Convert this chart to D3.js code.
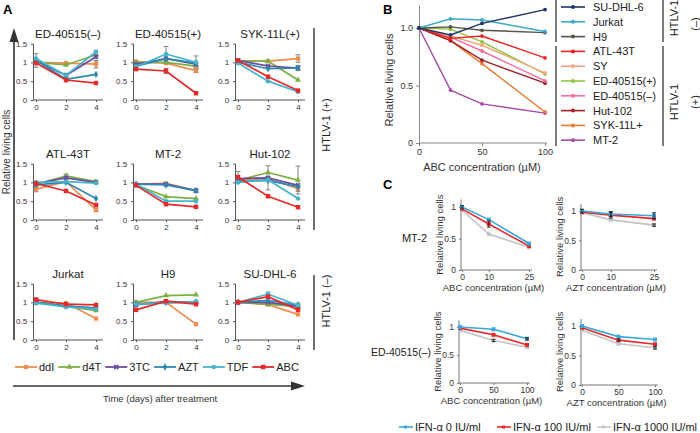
<!DOCTYPE html>
<html><head><meta charset="utf-8">
<script src="https://cdn.jsdelivr.net/npm/d3@7"></script>
<style>
body{margin:0;background:#fff;}
svg{display:block;font-family:"Liberation Sans",Arial,sans-serif;}
</style></head><body>
<svg id="c" width="700" height="433"></svg>
<script>
// ---------- DATA ----------
const days = [0, 2, 4];
const drugs = ["ddI", "d4T", "3TC", "AZT", "TDF", "ABC"];
const cellLinesA = ["ED-40515(–)", "ED-40515(+)", "SYK-11L(+)", "ATL-43T", "MT-2", "Hut-102", "Jurkat", "H9", "SU-DHL-6"];
const yTicksA = [0, 0.5, 1, 1.5];
// each: rows ddI, d4T, 3TC, AZT, TDF, ABC ; columns day 0, 2, 4
const vED40515neg = [[1.0,0.98,0.95],[1.0,0.93,1.2],[1.05,0.65,1.15],[1.05,0.55,0.68],[1.1,0.65,1.28],[0.98,0.53,0.45]];
const vED40515pos = [[1.02,0.98,0.78],[1.0,1.0,0.9],[0.95,1.1,0.95],[0.9,1.1,0.98],[0.88,1.22,1.0],[0.82,0.77,0.18]];
const vSYK11L     = [[1.03,1.03,1.1],[1.03,1.03,0.53],[1.05,0.9,0.85],[1.0,0.83,0.85],[0.98,0.5,0.22],[1.05,0.62,0.25]];
const vATL43T     = [[0.82,1.02,0.27],[0.95,1.17,1.02],[0.97,1.12,1.0],[0.93,1.0,0.57],[1.0,1.02,0.98],[0.97,0.77,0.4]];
const vMT2        = [[0.95,0.97,0.78],[0.93,0.62,0.57],[0.95,0.95,0.78],[0.95,0.93,0.78],[0.95,0.5,0.5],[0.92,0.42,0.35]];
const vHut102     = [[1.05,1.1,0.83],[1.05,1.26,1.06],[1.1,1.12,0.92],[1.02,1.05,0.88],[1.0,1.07,0.57],[1.14,0.63,0.34]];
const vJurkat     = [[1.0,0.98,0.57],[1.0,0.9,0.78],[1.0,0.9,0.85],[1.0,0.9,0.85],[0.98,0.88,0.82],[1.07,0.95,0.93]];
const vH9         = [[1.0,1.0,0.42],[1.0,1.18,1.2],[0.93,1.02,1.0],[0.95,1.0,1.0],[0.95,0.98,1.02],[0.8,1.03,0.95]];
const vSUDHL6     = [[1.0,0.94,0.68],[1.0,0.95,0.88],[1.0,1.0,0.9],[1.0,1.05,0.93],[1.0,1.22,0.92],[1.0,1.15,0.8]];
// error bars: [drug index, day index, sd]
const eED40515neg = [[2,0,0.18],[2,2,0.15],[0,2,0.1],[2,1,0.06]];
const eED40515pos = [[4,1,0.2],[5,1,0.07],[4,2,0.17],[0,2,0.05]];
const eSYK11L     = [[0,2,0.1],[3,2,0.06]];
const eATL43T     = [[0,0,0.07],[1,1,0.05],[0,2,0.05]];
const eMT2        = [[3,2,0.04]];
const eHut102     = [[5,0,0.15],[2,1,0.32],[1,2,0.37],[0,2,0.07]];
const eJurkat     = [[5,0,0.05]];
const eH9         = [];
const eSUDHL6     = [[4,1,0.05],[3,2,0.05]];

const concB = [0, 25, 50, 100];
const cellLinesB = ["SU-DHL-6","Jurkat","H9","ATL-43T","SY","ED-40515(+)","ED-40515(–)","Hut-102","SYK-11L+","MT-2"];
const bSUDHL6  = [1.0,0.94,1.04,1.16];
const bJurkat  = [1.0,1.08,1.07,0.97];
const bH9      = [1.0,1.01,0.98,0.96];
const bATL43T  = [1.0,0.91,0.93,0.74];
const bSY      = [1.0,0.93,0.85,0.61];
const bED40515pos = [1.0,0.99,0.88,0.60];
const bED40515neg = [1.0,0.92,0.80,0.54];
const bHut102  = [1.0,0.89,0.72,0.52];
const bSYK11L  = [1.0,0.89,0.69,0.27];
const bMT2     = [1.0,0.46,0.34,0.26];
const yTicksB = [0, 0.5, 1.0];
const xTicksB = [0, 50, 100];

const ifnLabels = ["IFN-α 0 IU/ml","IFN-α 100 IU/ml","IFN-α 1000 IU/ml"];
const concMT2 = [0, 10, 25];
const concED = [0, 50, 100];
const cMT2_ABC = [[1.0,0.80,0.42],[0.97,0.73,0.38],[0.95,0.57,0.36]];
const cMT2_AZT = [[1.0,0.95,0.92],[0.98,0.93,0.87],[0.97,0.85,0.76]];
const cED_ABC  = [[1.0,0.96,0.79],[0.98,0.86,0.68],[0.94,0.76,0.64]];
const cED_AZT  = [[1.0,0.82,0.77],[0.97,0.76,0.69],[0.93,0.70,0.63]];
const yTicksC = [0, 0.5, 1];

// ---------- STYLE ----------
const drugColors = ["#F08C4E","#7DAF45","#6A4C9C","#2C88B0","#45B3CC","#E52A2A"];
const bColors = ["#1F3566","#3DA7C9","#55554A","#ED2224","#F7A57E","#8CC63E","#F26D9F","#9E1F25","#EB7B2D","#A64CA6"];
const ifnColors = ["#3AA8DE","#E8282B","#C4C4C4"];

const svg = d3.select("#c");

function symFor(i){
  const t = [d3.symbolSquare, d3.symbolTriangle, d3.symbolCross, d3.symbolDiamond, d3.symbolCircle, d3.symbolSquare][i];
  const s = [18, 16, 18, 16, 16, 20][i];
  return d3.symbol(t, s)();
}

// ---------- PANEL A ----------
svg.append("text").attr("x",3).attr("y",14).attr("font-weight","bold").attr("font-size",13).text("A");

const panelsA = [
  [vED40515neg,eED40515neg],[vED40515pos,eED40515pos],[vSYK11L,eSYK11L],
  [vATL43T,eATL43T],[vMT2,eMT2],[vHut102,eHut102],
  [vJurkat,eJurkat],[vH9,eH9],[vSUDHL6,eSUDHL6]
];
const colX = [36, 136, 238];
const rowY = [100, 220, 340];

panelsA.forEach((p, k) => {
  const [vals, errs] = p;
  const x0 = colX[k % 3], y0 = rowY[Math.floor(k / 3)];
  const x = d3.scaleLinear().domain([0,4]).range([x0, x0 + 60]);
  const y = d3.scaleLinear().domain([0,1.5]).range([y0, y0 - 56.5]);
  const g = svg.append("g");
  g.append("text").attr("x", x0 + 32).attr("y", y0 - 62).attr("text-anchor","middle")
    .attr("font-size", 11.5).attr("fill","#222").text(cellLinesA[k]);
  const ya = g.append("g").attr("transform", `translate(${x0 - 3},0)`)
    .call(d3.axisLeft(y).tickValues(yTicksA).tickSize(2).tickSizeOuter(0).tickFormat(d => String(d)));
  const xa = g.append("g").attr("transform", `translate(0,${y0})`)
    .call(d3.axisBottom(x).tickValues(days).tickSize(2).tickSizeOuter(0).tickFormat(d3.format("d")));
  xa.select(".domain").remove();
  xa.append("line").attr("x1", x0 - 3).attr("x2", x0 + 67).attr("stroke","#555");
  [ya, xa].forEach(a => {
    a.selectAll("text").attr("font-family", '"Liberation Sans",Arial,sans-serif').attr("font-size", 8).attr("fill","#333");
    a.selectAll(".domain,line").attr("stroke","#555");
  });
  xa.selectAll(".tick text").attr("dy","0.65em");
  ya.selectAll(".tick text").attr("dx","-0.1em");
  // error bars
  errs.forEach(([di, ti, sd]) => {
    const cx = x(days[ti]), v = vals[di][ti];
    g.append("line").attr("x1",cx).attr("x2",cx).attr("y1",y(v+sd)).attr("y2",y(v-sd)).attr("stroke","#777").attr("stroke-width",0.9);
    [v+sd, v-sd].forEach(e => g.append("line").attr("x1",cx-2.5).attr("x2",cx+2.5).attr("y1",y(e)).attr("y2",y(e)).attr("stroke","#777").attr("stroke-width",0.9));
  });
  const line = d3.line().x((d,i) => x(days[i])).y(d => y(d));
  vals.forEach((series, di) => {
    g.append("path").attr("d", line(series)).attr("fill","none")
      .attr("stroke", drugColors[di]).attr("stroke-width", 1.7);
    series.forEach((v, i) => {
      g.append("path").attr("d", symFor(di))
        .attr("transform", `translate(${x(days[i])},${y(v)})` + (di === 2 ? " rotate(45)" : ""))
        .attr("fill", drugColors[di]);
    });
  });
});

// big arrows
const ac = "#333";
svg.append("line").attr("x1",14).attr("x2",14).attr("y1",340).attr("y2",40).attr("stroke",ac).attr("stroke-width",1.6);
svg.append("path").attr("d","M14,28 L9.5,42 L18.5,42 Z").attr("fill",ac);
svg.append("line").attr("x1",13).attr("x2",292).attr("y1",386).attr("y2",386).attr("stroke",ac).attr("stroke-width",1.6);
svg.append("path").attr("d","M305,386 L291,381.5 L291,390.5 Z").attr("fill",ac);
svg.append("text").attr("transform","translate(10,152) rotate(-90)").attr("text-anchor","middle")
  .attr("font-size",10).attr("fill","#333").text("Relative living cells");
svg.append("text").attr("x",160).attr("y",402).attr("text-anchor","middle")
  .attr("font-size",9.5).attr("fill","#333").text("Time (days) after treatment");

// HTLV brackets A
svg.append("line").attr("x1",314).attr("x2",314).attr("y1",28).attr("y2",230).attr("stroke",ac).attr("stroke-width",1.4);
svg.append("line").attr("x1",314).attr("x2",314).attr("y1",275).attr("y2",350).attr("stroke",ac).attr("stroke-width",1.4);
svg.append("text").attr("transform","translate(330,125) rotate(-90)").attr("text-anchor","middle")
  .attr("font-size",11).attr("fill","#222").text("HTLV-1 (+)");
svg.append("text").attr("transform","translate(330,301) rotate(-90)").attr("text-anchor","middle")
  .attr("font-size",11).attr("fill","#222").text("HTLV-1 (–)");

// legend A
let lx = 15;
drugs.forEach((d, i) => {
  const ly = 367;
  svg.append("line").attr("x1",lx).attr("x2",lx+22).attr("y1",ly).attr("y2",ly).attr("stroke",drugColors[i]).attr("stroke-width",1.8);
  svg.append("path").attr("d",symFor(i)).attr("transform",`translate(${lx+11},${ly})` + (i===2?" rotate(45)":"")).attr("fill",drugColors[i]);
  const t = svg.append("text").attr("x",lx+24).attr("y",ly+4).attr("font-size",11).attr("fill","#222").text(d);
  lx += 24 + t.node().getComputedTextLength() + 4;
});

// ---------- PANEL B ----------
svg.append("text").attr("x",383).attr("y",14).attr("font-weight","bold").attr("font-size",13).text("B");
const bSeries = [bSUDHL6,bJurkat,bH9,bATL43T,bSY,bED40515pos,bED40515neg,bHut102,bSYK11L,bMT2];
const xB = d3.scaleLinear().domain([0,100]).range([419,545]);
const yB = d3.scaleLinear().domain([0,1.2]).range([143,5]);
const gB = svg.append("g");
const yaB = gB.append("g").attr("transform","translate(419,0)")
  .call(d3.axisLeft(yB).tickValues(yTicksB).tickSize(3).tickSizeOuter(0).tickFormat(d => d === 0 ? "0" : d3.format(".1f")(d)));
const xaB = gB.append("g").attr("transform","translate(0,143)")
  .call(d3.axisBottom(xB).tickValues(xTicksB).tickSize(3).tickSizeOuter(0));
xaB.select(".domain").attr("d","M419,0H547");
[yaB, xaB].forEach(a => {
  a.selectAll(".domain,line").attr("stroke","#888");
  a.selectAll("text").attr("font-family",'"Liberation Sans",Arial,sans-serif').attr("font-size",9).attr("fill","#333");
});
gB.append("text").attr("x",482).attr("y",171).attr("text-anchor","middle").attr("font-size",11).attr("fill","#333").text("ABC concentration (µM)");
gB.append("text").attr("transform","translate(393,80) rotate(-90)").attr("text-anchor","middle").attr("font-size",11).attr("fill","#333").text("Relative living cells");
const lineB = d3.line().x((d,i) => xB(concB[i])).y(d => yB(d));
bSeries.slice().reverse().forEach((s, ri) => {
  const i = bSeries.length - 1 - ri;
  gB.append("path").attr("d", lineB(s)).attr("fill","none").attr("stroke",bColors[i]).attr("stroke-width",1.4);
  s.forEach((v, j) => gB.append("circle").attr("cx",xB(concB[j])).attr("cy",yB(v)).attr("r",1.9).attr("fill",bColors[i]));
});
// legend B
cellLinesB.forEach((name, i) => {
  const ly = 7 + i * 14.8;
  gB.append("line").attr("x1",561).attr("x2",585).attr("y1",ly).attr("y2",ly).attr("stroke",bColors[i]).attr("stroke-width",1.6);
  gB.append("circle").attr("cx",573).attr("cy",ly).attr("r",2).attr("fill",bColors[i]);
  gB.append("text").attr("x",593).attr("y",ly+4).attr("font-size",11).attr("fill","#222").text(name);
});
gB.append("line").attr("x1",556).attr("x2",556).attr("y1",0).attr("y2",42).attr("stroke",ac).attr("stroke-width",1.3);
gB.append("line").attr("x1",556).attr("x2",556).attr("y1",46).attr("y2",146).attr("stroke",ac).attr("stroke-width",1.3);
gB.append("line").attr("x1",663).attr("x2",663).attr("y1",0).attr("y2",42).attr("stroke",ac).attr("stroke-width",1.3);
gB.append("line").attr("x1",663).attr("x2",663).attr("y1",46).attr("y2",146).attr("stroke",ac).attr("stroke-width",1.3);
gB.append("text").attr("transform","translate(678,18) rotate(-90)").attr("text-anchor","middle").attr("font-size",11).attr("fill","#222").text("HTLV-1");
gB.append("text").attr("transform","translate(699,24) rotate(-90)").attr("text-anchor","middle").attr("font-size",11).attr("fill","#222").text("(–)");
gB.append("text").attr("transform","translate(678,102) rotate(-90)").attr("text-anchor","middle").attr("font-size",11).attr("fill","#222").text("HTLV-1");
gB.append("text").attr("transform","translate(699,102) rotate(-90)").attr("text-anchor","middle").attr("font-size",11).attr("fill","#222").text("(+)");

// ---------- PANEL C ----------
svg.append("text").attr("x",383).attr("y",189).attr("font-weight","bold").attr("font-size",13).text("C");
svg.append("text").attr("x",427).attr("y",242).attr("text-anchor","end").attr("font-size",11).attr("fill","#222").text("MT-2");
svg.append("text").attr("x",431).attr("y",356).attr("text-anchor","end").attr("font-size",10.5).attr("fill","#222").text("ED-40515(–)");

const cPanels = [
  {vals:cMT2_ABC, conc:concMT2, drug:"ABC", x0:462, x1:529, yb:270, y1:207, errs:[[1,1,0.05],[0,0,0.02]]},
  {vals:cMT2_AZT, conc:concMT2, drug:"AZT", x0:582, x1:654, yb:270, y1:211, errs:[[0,0,0.03],[0,1,0.04],[1,1,0.05],[0,2,0.05],[2,2,0.02]]},
  {vals:cED_ABC,  conc:concED,  drug:"ABC", x0:460, x1:527, yb:383, y1:327, errs:[[0,2,0.02],[2,1,0.02]]},
  {vals:cED_AZT,  conc:concED,  drug:"AZT", x0:582, x1:655, yb:385, y1:326, errs:[[1,1,0.02],[2,2,0.02]]}
];
cPanels.forEach(p => {
  const x = d3.scaleLinear().domain([0, p.conc[2]]).range([p.x0, p.x1]);
  const y = d3.scaleLinear().domain([0,1]).range([p.yb, p.y1]);
  const top = y(1.12);
  const g = svg.append("g");
  const ya = g.append("g").attr("transform",`translate(${p.x0 - 1},0)`)
    .call(d3.axisLeft(y).tickValues(yTicksC).tickSize(2).tickSizeOuter(0).tickFormat(d => String(d)));
  ya.select(".domain").attr("d",`M0,${p.yb}V${top}`);
  const xa = g.append("g").attr("transform",`translate(0,${p.yb})`)
    .call(d3.axisBottom(x).tickValues(p.conc).tickSize(2).tickSizeOuter(0).tickFormat(d3.format("d")));
  xa.select(".domain").attr("d",`M${p.x0 - 1},0H${p.x1 + 3}`);
  [ya, xa].forEach(a => {
    a.selectAll(".domain,line").attr("stroke","#777");
    a.selectAll("text").attr("font-family",'"Liberation Sans",Arial,sans-serif').attr("font-size",8.5).attr("fill","#333");
  });
  xa.selectAll(".tick text").attr("dy","0.55em");
  g.append("text").attr("x",(p.x0 + p.x1) / 2 - 2).attr("y",p.yb + 21).attr("text-anchor","middle")
    .attr("font-size",9.5).attr("fill","#333").text(p.drug + " concentration (µM)");
  g.append("text").attr("transform",`translate(${p.x0 - 19},${(p.yb + top) / 2}) rotate(-90)`).attr("text-anchor","middle")
    .attr("font-size",9.5).attr("fill","#333").text("Relative living cells");
  const line = d3.line().x((d,i) => x(p.conc[i])).y(d => y(d));
  [2,1,0].forEach(si => {
    g.append("path").attr("d",line(p.vals[si])).attr("fill","none").attr("stroke",ifnColors[si]).attr("stroke-width",1.6);
    p.vals[si].forEach((v,i) => g.append("rect").attr("x",x(p.conc[i]) - 2).attr("y",y(v) - 2).attr("width",4).attr("height",4).attr("fill",ifnColors[si]));
  });
  p.errs.forEach(([si, i, sd]) => {
    const cx = x(p.conc[i]), v = p.vals[si][i];
    g.append("line").attr("x1",cx).attr("x2",cx).attr("y1",y(v+sd)).attr("y2",y(v-sd)).attr("stroke","#222").attr("stroke-width",0.9);
    [v+sd, v-sd].forEach(e => g.append("line").attr("x1",cx-2).attr("x2",cx+2).attr("y1",y(e)).attr("y2",y(e)).attr("stroke","#222").attr("stroke-width",0.9));
  });
});
// legend C
const cLegX = [399, 497, 597];
ifnLabels.forEach((lab, i) => {
  const ly = 427;
  svg.append("line").attr("x1",cLegX[i]).attr("x2",cLegX[i] + 14).attr("y1",ly).attr("y2",ly).attr("stroke",ifnColors[i]).attr("stroke-width",1.6);
  svg.append("rect").attr("x",cLegX[i] + 5).attr("y",ly - 1.5).attr("width",3).attr("height",3).attr("fill",ifnColors[i]);
  svg.append("text").attr("x",cLegX[i] + 16).attr("y",ly + 4).attr("font-size",11).attr("fill","#222").text(lab);
});
</script></body></html>
